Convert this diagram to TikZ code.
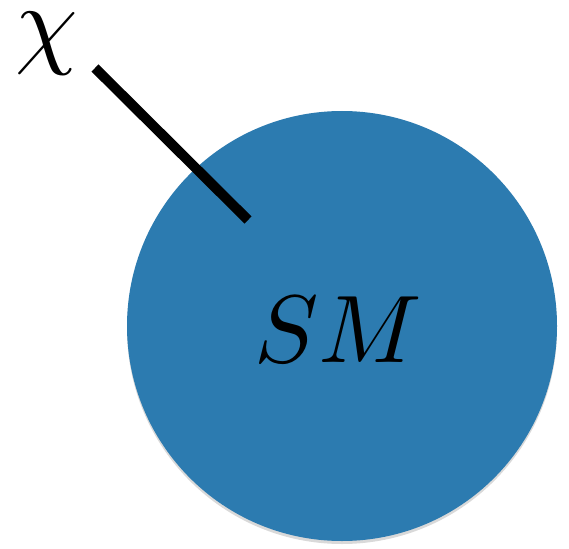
\documentclass[tikz,border=0pt]{standalone}
\usetikzlibrary{shadows}
\definecolor{smblue}{HTML}{2C7BB0}
\begin{document}
\begin{tikzpicture}[x=1pt,y=-1pt,
  blob/.style={circle, inner sep=0pt, minimum size=430pt, fill=smblue,
    drop shadow={opacity=0.3, shadow xshift=0pt, shadow yshift=-3pt}},
  bigmath/.style={inner sep=0pt, scale=9.6},
  leg/.style={line width=10pt, black}]
\useasboundingbox (0,0) rectangle (569,548);
\node[blob] (sm) at (342,326) {};
\node[bigmath] (smlabel) at (338,330) {$SM$};
\node[bigmath, scale=10/9.6] (chi) at (47,44) {$\chi$};
\coordinate (a) at (95,68);
\coordinate (b) at (248,220);
\draw[leg] (a) -- (b);
\end{tikzpicture}
\end{document}
